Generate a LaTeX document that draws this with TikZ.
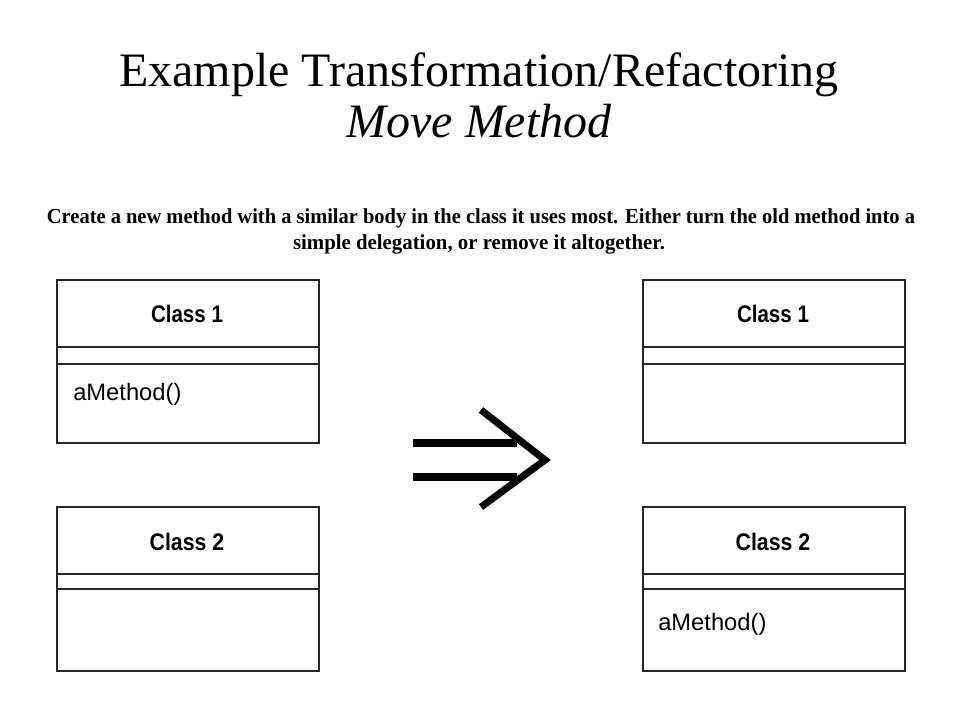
\documentclass[tikz,border=0pt]{standalone}
\usepackage{fontspec}
\usepackage{graphicx}
\setmainfont{Liberation Serif}
\newfontfamily\umlfont{Liberation Sans}
\tikzset{
  umlbox/.style={draw=black!85, line width=1.5pt},
  umlsep/.style={draw=black!85, line width=1.5pt},
  classname/.style={anchor=base, inner sep=0pt, font=\umlfont\bfseries\fontsize{18pt}{20pt}\selectfont},
  methodname/.style={anchor=base west, inner sep=0pt, font=\umlfont\fontsize{17.8pt}{20pt}\selectfont},
  bigarrow/.style={line width=5.3pt, black},
}
\begin{document}
\begin{tikzpicture}[x=0.75pt,y=-0.75pt]
\useasboundingbox (0,0) rectangle (960,720);
\fill[white] (0,0) rectangle (960,720);
% title
\node[anchor=base, inner sep=0pt, font=\fontsize{36pt}{40pt}\selectfont] (title) at (479,87) {Example Transformation/Refactoring};
\node[anchor=base, inner sep=0pt, font=\itshape\fontsize{36pt}{40pt}\selectfont] (subtitle) at (479,138) {Move Method};
% description
\node[anchor=base, inner sep=0pt, font=\bfseries\fontsize{16pt}{18pt}\selectfont] (desc1) at (481,224)
  {\resizebox{651pt}{\height}{Create a new method with a similar body in the class it uses most. Either turn the old method into a}};
\node[anchor=base, inner sep=0pt, font=\bfseries\fontsize{16pt}{18pt}\selectfont] (desc2) at (479,250)
  {\resizebox{279pt}{\height}{simple delegation, or remove it altogether.}};
% left Class 1
\draw[umlbox] (57,280) rectangle (319,443);
\draw[umlsep] (57,347) -- (319,347);
\draw[umlsep] (57,364) -- (319,364);
\node[classname] (lc1) at (187,322) {\resizebox{54pt}{\height}{Class 1}};
\node[methodname] (lm1) at (73,400) {aMethod()};
% left Class 2
\draw[umlbox] (57,507) rectangle (319,671);
\draw[umlsep] (57,574) -- (319,574);
\draw[umlsep] (57,589) -- (319,589);
\node[classname] (lc2) at (187,550) {\resizebox{56pt}{\height}{Class 2}};
% right Class 1
\draw[umlbox] (643,280) rectangle (905,443);
\draw[umlsep] (643,347) -- (905,347);
\draw[umlsep] (643,364) -- (905,364);
\node[classname] (rc1) at (773,322) {\resizebox{54pt}{\height}{Class 1}};
% right Class 2
\draw[umlbox] (643,507) rectangle (905,671);
\draw[umlsep] (643,574) -- (905,574);
\draw[umlsep] (643,589) -- (905,589);
\node[classname] (rc2) at (773,550) {\resizebox{56pt}{\height}{Class 2}};
\node[methodname] (rm2) at (658,630) {aMethod()};
% implies arrow
\coordinate (a1) at (413,443);
\coordinate (a2) at (517,443);
\coordinate (b1) at (413,477);
\coordinate (b2) at (517,477);
\coordinate (ct) at (481,410);
\coordinate (tip) at (545,460);
\coordinate (cb) at (481,507);
\draw[bigarrow] (a1) -- (a2);
\draw[bigarrow] (b1) -- (b2);
\draw[bigarrow, line join=miter] (ct) -- (tip) -- (cb);
\end{tikzpicture}
\end{document}
